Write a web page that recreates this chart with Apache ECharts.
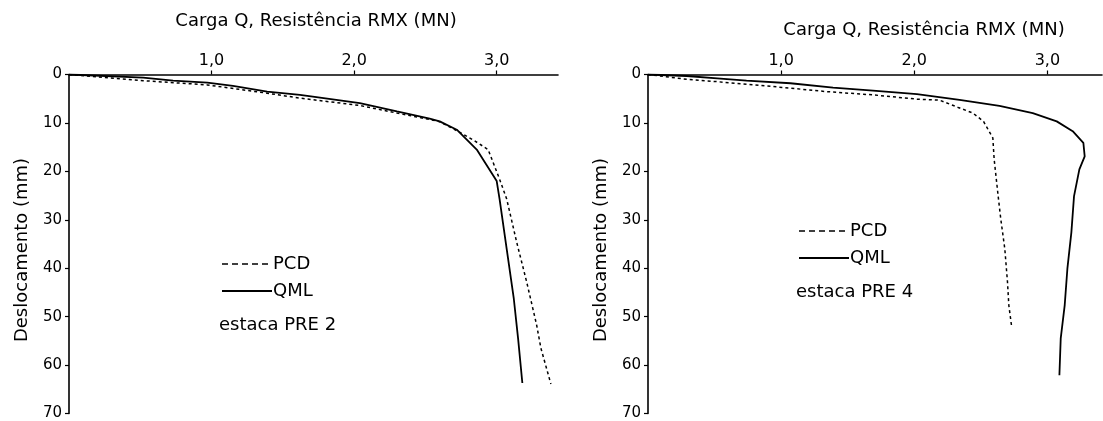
<!DOCTYPE html>
<html>
<head>
<meta charset="utf-8">
<script src="https://cdn.jsdelivr.net/npm/echarts@6/dist/echarts.min.js"></script>
<style>
html,body{margin:0;padding:0;background:#fff;}
#chart{width:1103px;height:421px;}
</style>
</head>
<body>
<div id="chart"></div>
<script>
// ---- Data (load in MN, displacement in mm) ----
const xTickValues = [1, 2, 3];
const yTickValues = [0, 10, 20, 30, 40, 50, 60, 70];
const seriesNames = ['PCD', 'QML'];
const pileNames = ['estaca PRE 2', 'estaca PRE 4'];
const xAxisTitle = 'Carga Q, Resistência RMX (MN)';
const yAxisTitle = 'Deslocamento (mm)';

const pre2PcdLoad = [0, 0.52, 0.97, 1.39, 1.62, 2.04, 2.30, 2.53, 2.60, 2.72, 2.84, 2.94, 3.02, 3.07, 3.14, 3.21, 3.28, 3.31, 3.38];
const pre2PcdDisp = [0, 1.27, 2.15, 3.86, 4.88, 6.4, 7.96, 9.3, 9.75, 11.6, 13.6, 15.5, 21.6, 25.7, 34.6, 42.8, 51.7, 56.5, 63.9];

const pre2QmlLoad = [0, 0.52, 0.73, 0.97, 1.15, 1.39, 1.62, 1.71, 2.04, 2.30, 2.53, 2.60, 2.72, 2.86, 3.00, 3.02, 3.07, 3.12, 3.15, 3.18];
const pre2QmlDisp = [0, 0.66, 1.27, 1.68, 2.36, 3.53, 4.21, 4.55, 5.91, 7.63, 9.13, 9.68, 11.4, 15.5, 22.0, 25.7, 36.0, 46.3, 54.5, 63.7];

const pre4PcdLoad = [0, 0.29, 0.52, 0.89, 1.34, 1.69, 2.02, 2.19, 2.33, 2.44, 2.52, 2.59, 2.60, 2.63, 2.65, 2.68, 2.70, 2.71, 2.73];
const pre4PcdDisp = [0, 0.98, 1.48, 2.36, 3.53, 4.21, 5.09, 5.3, 6.8, 7.96, 9.68, 13.1, 17.5, 25.1, 29.9, 36.0, 42.8, 47.6, 51.8];

const pre4QmlLoad = [0, 0.29, 0.52, 0.74, 1.07, 1.39, 1.69, 2.02, 2.34, 2.64, 2.89, 3.07, 3.19, 3.27, 3.28, 3.24, 3.20, 3.18, 3.15, 3.13, 3.10, 3.09];
const pre4QmlDisp = [0, 0.31, 0.78, 1.27, 1.81, 2.71, 3.32, 4.06, 5.23, 6.46, 7.96, 9.68, 11.7, 14.1, 16.9, 19.6, 25.1, 32.6, 40.1, 47.6, 54.5, 62.1];

function pairs(xs, ys) { return xs.map((x, i) => [x, ys[i]]); }

const FONT = 'DejaVu Sans';
const grids = [
  {left: 69, top: 74.5, width: 489, height: 341.2},
  {left: 648, top: 74.5, width: 454, height: 341.2}
];
const xMax = [3.43, 3.41];

function xAxisFor(i) {
  return {
    gridIndex: i, type: 'value', position: 'top', min: 0, max: xMax[i],
    splitLine: {show: false},
    axisLine: {lineStyle: {color: '#000', width: 1.6}},
    axisTick: {customValues: xTickValues, length: 4, inside: false, lineStyle: {color: '#000', width: 1.2}},
    axisLabel: {customValues: xTickValues, margin: 6, color: '#000', fontFamily: FONT, fontSize: 16,
      formatter: v => v.toFixed(1).replace('.', ',')}
  };
}
function yAxisFor(i) {
  return {
    gridIndex: i, type: 'value', inverse: true, min: 0, max: 70, interval: 10,
    name: yAxisTitle, nameLocation: 'middle', nameGap: 38,
    nameTextStyle: {color: '#000', fontFamily: FONT, fontSize: 18, padding: [0, 12, 0, 0]},
    splitLine: {show: false},
    axisLine: {lineStyle: {color: '#000', width: 1.6}},
    axisTick: {length: 4, lineStyle: {color: '#000', width: 1.2}},
    axisLabel: {customValues: yTickValues, margin: 7, color: '#000', fontFamily: FONT, fontSize: 15}
  };
}
function lineSeries(name, i, data, dashed) {
  return {
    name: name, type: 'line', xAxisIndex: i, yAxisIndex: i, data: data,
    symbol: 'none', smooth: false, silent: true, animation: false,
    lineStyle: {color: '#000', width: dashed ? 1.5 : 1.8, type: dashed ? [3, 3] : 'solid'}
  };
}
const TXT = '18px "DejaVu Sans"';
function legendGraphics(x0, yPcd, yQml, yPile, pileName) {
  return [
    {type: 'line', shape: {x1: x0, y1: yPcd, x2: x0 + 50, y2: yPcd}, style: {stroke: '#000', lineWidth: 1.5, lineDash: [6, 4]}},
    {type: 'text', x: x0 + 51, y: yPcd, style: {text: seriesNames[0], fill: '#000', font: TXT, textAlign: 'left', textVerticalAlign: 'middle'}},
    {type: 'line', shape: {x1: x0, y1: yQml, x2: x0 + 50, y2: yQml}, style: {stroke: '#000', lineWidth: 1.8}},
    {type: 'text', x: x0 + 51, y: yQml, style: {text: seriesNames[1], fill: '#000', font: TXT, textAlign: 'left', textVerticalAlign: 'middle'}},
    {type: 'text', x: x0 - 3, y: yPile, style: {text: pileName, fill: '#000', font: TXT, textAlign: 'left', textVerticalAlign: 'middle'}}
  ];
}

const chart = echarts.init(document.getElementById('chart'), null, {renderer: 'canvas'});
chart.setOption({
  animation: false,
  backgroundColor: '#fff',
  grid: grids,
  xAxis: [xAxisFor(0), xAxisFor(1)],
  yAxis: [yAxisFor(0), yAxisFor(1)],
  series: [
    lineSeries(seriesNames[0], 0, pairs(pre2PcdLoad, pre2PcdDisp), true),
    lineSeries(seriesNames[1], 0, pairs(pre2QmlLoad, pre2QmlDisp), false),
    lineSeries(seriesNames[0], 1, pairs(pre4PcdLoad, pre4PcdDisp), true),
    lineSeries(seriesNames[1], 1, pairs(pre4QmlLoad, pre4QmlDisp), false)
  ],
  graphic: [
    {type: 'text', x: 316, y: 21, style: {text: xAxisTitle, fill: '#000', font: TXT, textAlign: 'center', textVerticalAlign: 'middle'}},
    {type: 'text', x: 924, y: 30, style: {text: xAxisTitle, fill: '#000', font: TXT, textAlign: 'center', textVerticalAlign: 'middle'}}
  ].concat(
    legendGraphics(222, 264, 291, 325, pileNames[0]),
    legendGraphics(799, 231, 258, 292, pileNames[1])
  )
});
</script>
</body>
</html>
